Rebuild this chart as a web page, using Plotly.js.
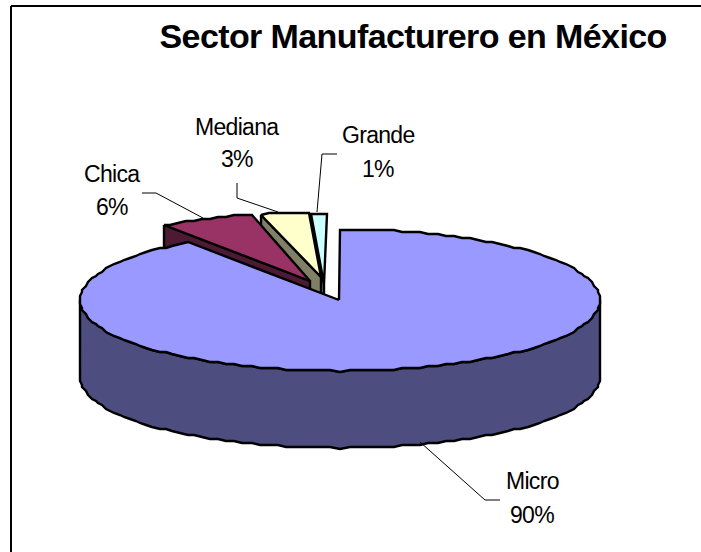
<!DOCTYPE html>
<html>
<head>
<meta charset="utf-8">
<script src="https://cdn.plot.ly/plotly-3.0.1.min.js"></script>
<style>
html,body{margin:0;padding:0;background:#fff}
#chart{width:701px;height:552px}
.annotation-text{letter-spacing:-0.7px}
.annotation:last-of-type .annotation-text{letter-spacing:-0.6px}
</style>
</head>
<body>
<div id="chart"></div>
<script>
// Sector shares
const categories = ['Micro', 'Chica', 'Mediana', 'Grande'];
const shares = [90, 6, 3, 1];

// Face and side colours per sector
const topColors = ['#9999FF', '#993366', '#FFFFCC', '#CCFFFF'];
const sideColors = ['#4D4D80', '#4D1A33', '#808066', '#668080'];

// Oblique disc geometry
const cx = 340, cy = 300, rx = 260, ry = 71, depth = 77;

// Pull-out of each wedge: rim offset and apex offset
const rimShift = [[0, 0], [-24, -17], [-15, -17], [-13, -16]];
const apexShift = [[-1, 0], [-30, -19], [-19, -23], [-16, -16]];

// Label anchors and leader lines
const labelCenter = [[532, 481, 515], [112, 174, 207], [237, 127, 159], [378, 135, 169]];
const leaders = [
  [[500, 485, 420], [500, 500, 442]],
  [[142, 156, 203], [193, 193, 218]],
  [[237, 237, 278], [183, 198, 212]],
  [[337, 322, 317], [154, 154, 212]]
];

// A slightly coarse rim, as the outline is faceted
const snap = (v, g) => Math.round(v / g) * g;
function rim(t, shift) {
  const a = t * Math.PI / 180;
  return [snap(cx + rx * Math.sin(a), 2) + shift[0], snap(cy - ry * Math.cos(a), 2) + shift[1]];
}
function arc(from, to, shift) {
  const pts = [];
  const n = Math.max(2, Math.round(Math.abs(to - from) / 2));
  for (let i = 0; i <= n; i++) pts.push(rim(from + (to - from) * i / n, shift));
  return pts;
}
function poly(pts, fill) {
  const xs = pts.map(p => p[0]).concat(pts[0][0]);
  const ys = pts.map(p => p[1]).concat(pts[0][1]);
  return {
    x: xs, y: ys, mode: 'lines', fill: 'toself', fillcolor: fill,
    line: {color: '#000', width: 2.4, simplify: false}, hoverinfo: 'skip', showlegend: false
  };
}

// Wedge angles follow the shares, clockwise from twelve o'clock
const total = shares.reduce((a, b) => a + b, 0);
let acc = 0;
const wedges = shares.map((v, i) => {
  const w = {i, from: acc / total * 360, to: (acc + v) / total * 360};
  acc += v;
  return w;
});

const traces = [];
// Paint from the back wedge forward so the disc hides the hidden sides
[3, 2, 1, 0].forEach(k => {
  const w = wedges[k], rs = rimShift[k], as = apexShift[k];
  const apex = [cx + as[0], cy + as[1]];
  const top = arc(w.from, w.to, rs);
  if (k === 0) {
    const front = arc(90, 270, rs);
    const under = front.slice().reverse().map(p => [p[0], p[1] + depth]);
    traces.push(poly(front.concat(under), sideColors[k]));
  } else {
    const outer = top[0];
    traces.push(poly([outer, apex, [apex[0], apex[1] + depth], [outer[0], outer[1] + depth]], sideColors[k]));
  }
  traces.push(poly([apex].concat(top), topColors[k]));
});

// Leader lines
leaders.forEach(l => traces.push({
  x: l[0], y: l[1], mode: 'lines', line: {color: '#000', width: 1},
  hoverinfo: 'skip', showlegend: false
}));

const labelFont = {family: 'Liberation Sans, Arial, sans-serif', size: 23, color: '#000'};
const annotations = [];
categories.forEach((c, i) => {
  annotations.push({x: labelCenter[i][0], y: labelCenter[i][1], text: c, showarrow: false,
    xref: 'x', yref: 'y', font: labelFont});
  annotations.push({x: labelCenter[i][0], y: labelCenter[i][2], text: Math.round(shares[i] / total * 100) + '%',
    showarrow: false, xref: 'x', yref: 'y', font: labelFont});
});
annotations.push({x: 413, y: 36, text: '<b>Sector Manufacturero en México</b>', showarrow: false,
  xref: 'x', yref: 'y', font: {family: 'Liberation Sans, Arial, sans-serif', size: 34, color: '#000'}});

const layout = {
  width: 701, height: 552,
  margin: {l: 0, r: 0, t: 0, b: 0},
  paper_bgcolor: '#fff', plot_bgcolor: '#fff',
  xaxis: {range: [0, 701], visible: false, fixedrange: true},
  yaxis: {range: [552, 0], visible: false, fixedrange: true},
  showlegend: false,
  annotations,
  // Chart frame: only the top and left edges fall inside the page
  shapes: [
    {type: 'line', xref: 'x', yref: 'y', x0: 11, x1: 701, y0: 6, y1: 6, line: {color: '#000', width: 2}},
    {type: 'line', xref: 'x', yref: 'y', x0: 11, x1: 11, y0: 6, y1: 552, line: {color: '#000', width: 2}}
  ]
};

Plotly.newPlot('chart', traces, layout, {displayModeBar: false, staticPlot: true});
</script>
</body>
</html>
